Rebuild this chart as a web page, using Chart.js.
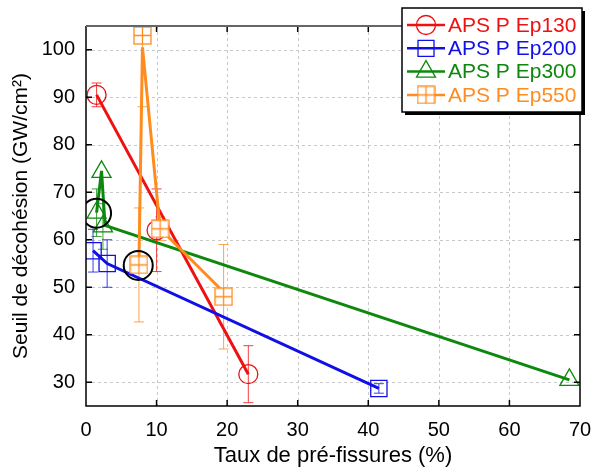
<!DOCTYPE html>
<html>
<head>
<meta charset="utf-8">
<script src="https://cdn.jsdelivr.net/npm/chart.js@4.4.1/dist/chart.umd.min.js"></script>
<style>
  html, body { margin: 0; padding: 0; background: #fff; }
</style>
</head>
<body>
<canvas id="chart" width="592" height="469"></canvas>
<script>
const FONT = '"Liberation Sans", Arial, sans-serif';

// tick labels
const xTicks = [0, 10, 20, 30, 40, 50, 60, 70];
const yTicks = [30, 40, 50, 60, 70, 80, 90, 100];

const seriesLabels = ['APS P Ep130', 'APS P Ep200', 'APS P Ep300', 'APS P Ep550'];

// markers (x, y, error) and line vertices per series
const redX = [1.5, 10, 23];
const redY = [90.5, 62, 31.7];
const redErr = [2.5, 8.7, 6];
const redLineX = [1.5, 23];
const redLineY = [90.5, 31.7];

const blueX = [1, 3, 41.5];
const blueY = [57.7, 55, 28.7];
const blueErr = [4.5, 5, 1];
const blueLineX = [1, 3, 41.5];
const blueLineY = [57.7, 55, 28.7];

const greenX = [1.5, 2.2, 2.4, 68.5];
const greenY = [65.7, 74.3, 62.8, 30.5];
const greenErr = [5, 0, 4.8, 0];
const greenLineX = [1.5, 2.2, 2.7, 68.5];
const greenLineY = [65.7, 74.5, 63, 30.5];

const orangeX = [7.5, 8, 10.5, 19.5];
const orangeY = [54.7, 103, 62.3, 48];
const orangeErr = [12, 15, 2.5, 11];
const orangeLineX = [7.5, 8, 10.5, 19.5];
const orangeLineY = [54.7, 100.5, 62.3, 49];

// black highlight circles
const circleX = [1.5, 7.4];
const circleY = [65.6, 54.6];

const RED = '#ee1111', BLUE = '#1010e6', GREEN = '#0d880d', ORANGE = '#ff8c1e';

const pts = (xs, ys) => xs.map((x, i) => ({ x: x, y: ys[i] }));

// white square with a cross inside, for the Ep550 markers
function crossSquare(color) {
  const c = document.createElement('canvas');
  c.width = 19; c.height = 19;
  const g = c.getContext('2d');
  g.fillStyle = '#fff';
  g.fillRect(1, 1, 17, 17);
  g.strokeStyle = color;
  g.lineWidth = 1.3;
  g.strokeRect(1, 1, 17, 17);
  g.beginPath();
  g.moveTo(1, 9.5); g.lineTo(18, 9.5);
  g.moveTo(9.5, 1); g.lineTo(9.5, 18);
  g.stroke();
  return c;
}
const orangeMarker = crossSquare(ORANGE);

function markerSet(label, xs, ys, errs, color, style, radius) {
  return {
    label: label, data: pts(xs, ys), errY: errs, errColor: color,
    showLine: false, pointStyle: style, pointRadius: radius,
    pointBorderColor: color, pointBackgroundColor: 'rgba(0,0,0,0)',
    pointBorderWidth: 1.3
  };
}
function lineSet(xs, ys, color) {
  return {
    data: pts(xs, ys), showLine: true, borderColor: color, borderWidth: 3,
    pointRadius: 0, tension: 0, fill: false
  };
}

// first dataset is drawn last (on top)
const datasets = [
  { data: pts(circleX, circleY), showLine: false, pointStyle: 'circle', pointRadius: 14.5,
    pointBorderColor: '#000', pointBorderWidth: 2, pointBackgroundColor: 'rgba(0,0,0,0)' },
  markerSet(seriesLabels[3], orangeX, orangeY, orangeErr, ORANGE, orangeMarker, 9),
  lineSet(orangeLineX, orangeLineY, ORANGE),
  lineSet(greenLineX, greenLineY, GREEN),
  markerSet(seriesLabels[2], greenX, greenY, greenErr, GREEN, 'triangle', 11),
  lineSet(blueLineX, blueLineY, BLUE),
  markerSet(seriesLabels[1], blueX, blueY, blueErr, BLUE, 'rect', 11.5),
  lineSet(redLineX, redLineY, RED),
  markerSet(seriesLabels[0], redX, redY, redErr, RED, 'circle', 9.5)
];

// frame, dashed grid, inward ticks and error bars
const framePlugin = {
  id: 'frame',
  beforeDatasetsDraw(chart) {
    const { ctx, chartArea: a, scales: { x, y } } = chart;
    ctx.save();
    ctx.strokeStyle = '#c8c8c8';
    ctx.lineWidth = 1;
    ctx.setLineDash([3, 3]);
    ctx.beginPath();
    xTicks.forEach(v => {
      const px = Math.round(x.getPixelForValue(v)) + 0.5;
      if (px > a.left + 1 && px < a.right - 1) { ctx.moveTo(px, a.top); ctx.lineTo(px, a.bottom); }
    });
    yTicks.forEach(v => {
      const py = Math.round(y.getPixelForValue(v)) + 0.5;
      ctx.moveTo(a.left, py); ctx.lineTo(a.right, py);
    });
    ctx.stroke();
    ctx.setLineDash([]);

    // error bars
    ctx.beginPath();
    ctx.rect(a.left, a.top, a.right - a.left, a.bottom - a.top);
    ctx.clip();
    ctx.lineWidth = 1;
    ctx.globalAlpha = 0.8;
    chart.data.datasets.forEach(ds => {
      if (!ds.errY) return;
      ctx.strokeStyle = ds.errColor;
      ctx.beginPath();
      ds.data.forEach((p, i) => {
        const e = ds.errY[i];
        if (!e) return;
        const px = x.getPixelForValue(p.x);
        const t = y.getPixelForValue(p.y + e);
        const b = y.getPixelForValue(p.y - e);
        ctx.moveTo(px, t); ctx.lineTo(px, b);
        ctx.moveTo(px - 5, t); ctx.lineTo(px + 5, t);
        ctx.moveTo(px - 5, b); ctx.lineTo(px + 5, b);
      });
      ctx.stroke();
    });
    ctx.restore();
  },
  afterDatasetsDraw(chart) {
    const { ctx, chartArea: a, scales: { x, y } } = chart;
    ctx.save();
    ctx.strokeStyle = '#000';
    ctx.lineWidth = 1.5;
    ctx.beginPath();
    xTicks.forEach(v => {
      const px = x.getPixelForValue(v);
      ctx.moveTo(px, a.bottom); ctx.lineTo(px, a.bottom - 6);
      ctx.moveTo(px, a.top); ctx.lineTo(px, a.top + 6);
    });
    yTicks.forEach(v => {
      const py = y.getPixelForValue(v);
      ctx.moveTo(a.left, py); ctx.lineTo(a.left + 6, py);
      ctx.moveTo(a.right, py); ctx.lineTo(a.right - 6, py);
    });
    ctx.moveTo(a.left, a.top); ctx.lineTo(a.left, a.bottom); ctx.lineTo(a.right, a.bottom); ctx.lineTo(a.right, a.top);
    ctx.stroke();
    ctx.strokeStyle = '#666';
    ctx.lineWidth = 2;
    ctx.beginPath();
    ctx.moveTo(a.left, a.top); ctx.lineTo(a.right, a.top);
    ctx.stroke();
    ctx.restore();
  }
};

function drawMarker(ctx, style, px, py, color) {
  ctx.strokeStyle = color;
  ctx.lineWidth = 1.3;
  ctx.beginPath();
  if (style === 'circle') {
    ctx.arc(px, py, 9.5, 0, Math.PI * 2);
  } else if (style === 'rect') {
    ctx.rect(px - 8, py - 8, 16, 16);
  } else if (style === 'triangle') {
    ctx.moveTo(px, py - 11);
    ctx.lineTo(px + 9.5, py + 5.5);
    ctx.lineTo(px - 9.5, py + 5.5);
    ctx.closePath();
  }
  ctx.stroke();
  if (typeof style !== 'string') ctx.drawImage(style, px - style.width / 2, py - style.height / 2);
}

const legendPlugin = {
  id: 'boxLegend',
  afterDraw(chart) {
    const ctx = chart.ctx;
    const bx = 402, by = 8, bw = 180, bh = 104;
    const items = [
      [seriesLabels[0], RED, 'circle'],
      [seriesLabels[1], BLUE, 'rect'],
      [seriesLabels[2], GREEN, 'triangle'],
      [seriesLabels[3], ORANGE, orangeMarker]
    ];
    ctx.save();
    ctx.fillStyle = '#000';
    ctx.fillRect(bx + 3, by + 3, bw, bh);
    ctx.fillStyle = '#fff';
    ctx.fillRect(bx, by, bw, bh);
    ctx.strokeStyle = '#000';
    ctx.lineWidth = 1.5;
    ctx.strokeRect(bx, by, bw, bh);
    ctx.font = '21px ' + FONT;
    ctx.textBaseline = 'middle';
    items.forEach((it, i) => {
      const ry = by + 17 + i * 23.3;
      ctx.strokeStyle = it[1];
      ctx.lineWidth = 2.5;
      ctx.beginPath();
      ctx.moveTo(407, ry); ctx.lineTo(445, ry);
      ctx.stroke();
      drawMarker(ctx, it[2], 426, ry, it[1]);
      ctx.fillStyle = it[1];
      ctx.fillText(it[0], 448, ry + 1);
    });
    ctx.restore();
  }
};

new Chart(document.getElementById('chart'), {
  type: 'scatter',
  data: { datasets: datasets },
  options: {
    responsive: false,
    animation: false,
    events: [],
    layout: { autoPadding: false, padding: { top: 26, right: 0, left: 0, bottom: 0 } },
    plugins: { legend: { display: false }, tooltip: { enabled: false } },
    scales: {
      x: {
        type: 'linear', min: 0, max: 70,
        afterBuildTicks: s => { s.ticks = xTicks.map(v => ({ value: v })); },
        afterFit: s => { s.height = 63; s.paddingRight = 12; s.paddingLeft = 6; },
        grid: { display: false, drawTicks: false },
        border: { display: false },
        ticks: { color: '#000', font: { size: 20, family: FONT }, padding: 12, maxRotation: 0 },
        title: { display: true, text: 'Taux de pré-fissures (%)', color: '#000',
                 font: { size: 22, family: FONT }, padding: { top: 0, bottom: 0 } }
      },
      y: {
        type: 'linear', min: 25, max: 105,
        afterBuildTicks: s => { s.ticks = yTicks.map(v => ({ value: v })); },
        afterFit: s => { s.width = 86; },
        grid: { display: false, drawTicks: false },
        border: { display: false },
        ticks: { color: '#000', font: { size: 20, family: FONT }, padding: 11 },
        title: { display: true, text: 'Seuil de décohésion (GW/cm²)', color: '#000',
                 font: { size: 21, family: FONT }, padding: { top: 9, bottom: 0 } }
      }
    }
  },
  plugins: [framePlugin, legendPlugin]
});
</script>
</body>
</html>
